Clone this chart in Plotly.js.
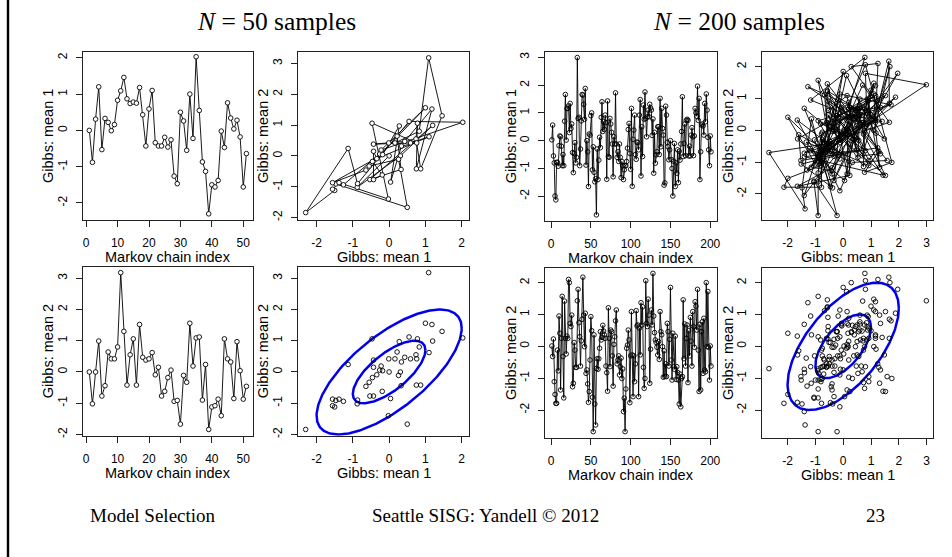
<!DOCTYPE html>
<html><head><meta charset="utf-8">
<script src="https://cdn.plot.ly/plotly-3.0.1.min.js"></script>
<style>html,body{margin:0;padding:0;background:#fff;} #chart{width:952px;height:557px;}</style>
</head><body><div id="chart"></div>
<script>
// ---- data: Gibbs sampler draws ----
const mean1_N50 = [0.0,-0.88,0.31,1.2,-0.53,0.33,0.22,-0.01,0.16,0.83,
 1.09,1.46,0.87,0.74,0.78,0.75,1.18,0.43,-0.43,0.59,
 1.10,-0.34,-0.43,-0.43,-0.19,-0.46,-0.26,-1.26,-1.47,0.50,
 0.26,-0.55,1.0,-0.22,2.03,0.55,-0.87,-1.13,-2.3,-1.5,
 -1.56,-1.38,-0.02,-0.47,0.76,0.34,0.04,0.28,-0.18,-1.56,-0.64];
const mean2_N50 = [0.0,-1.02,0.0,0.99,-0.77,-0.44,0.64,0.42,0.42,0.80,
 3.18,1.30,-0.42,0.55,1.06,-0.42,1.52,0.47,0.38,0.42,
 0.62,-0.09,0.15,-0.77,-0.62,-0.18,0.06,-0.94,-0.91,-1.67,
 -0.11,-0.33,1.56,0.19,1.09,1.12,-0.90,0.24,-1.84,-1.12,
 -1.08,-0.87,-1.40,1.06,0.42,0.32,-0.85,0.97,0.04,-0.87,-0.46];
const mean1_N200 = [0.03,0.56,-0.55,-0.8,-1.99,-2.13,-0.78,-0.78,-0.92,-0.18,
 0.17,0.14,-0.2,-0.9,-0.5,-0.9,0.7,1.66,0.02,1.16,
 1.16,1.25,0.29,1.34,0.44,0.6,-0.43,-1.15,-0.46,-0.07,
 -0.8,-0.6,2.99,0.8,0.84,-0.9,-0.3,0.71,1.66,1.64,
 1.31,0.77,1.88,-0.88,0,-0.4,-1.65,0.24,0.2,0.9,
 1.0,-1.05,-0.22,-1.14,-1.48,-1.37,-2.67,-0.3,-1.4,-0.7,
 0.12,-0.25,0.84,1.4,0.33,0.68,0.4,0.92,0.65,-1.39,
 1.43,-0.57,-0.6,0.8,0.6,0.3,-0.12,-1.3,0.14,-0.12,
 1.72,-0.12,-0.6,-0.4,-0.75,-0.12,-0.6,-1.33,-0.75,-0.9,
 -1.4,-1.05,-0.9,-0.9,-0.75,-0.27,0.4,0.62,-0.46,-1.03,
 1.16,-1.64,0.05,0.38,0.92,-0.5,-0.67,-0.05,-0.07,-0.33,
 0.92,1.48,-1.27,0.5,-0.57,1.28,0.77,1.75,0.8,0.14,
 0.86,1.1,0.86,1.31,1.18,1.1,0.19,0.78,-1.17,0.3,
 -0.81,-0.51,-0.4,0.5,0.5,-0.5,1.52,-0.22,1.16,0.44,
 0.2,-1.6,-1.52,1.24,0.92,-0.06,-0.22,-0.69,-0.33,0,
 -0.68,-1.0,-1.99,-0.74,-0.1,-1.65,-0.8,-1.17,-0.33,-1.51,
 -0.38,-0.7,-0.12,0.33,1.58,-0.57,-0.1,0.6,-0.54,0.73,
 0.77,0.73,-0.55,-0.2,-0.55,0.2,0.47,0.14,-0.54,0.17,
 1.16,1.0,0.88,1.96,0.73,1.52,-1.4,-0.4,0.56,0.6,
 0.53,0.2,1.34,0.68,1.68,1.1,0.12,-0.33,-0.9,0.17,-0.4];
const mean2_N200 = [0.01,-0.32,0.23,-1.11,-1.51,-1.79,-1.79,-0.12,-0.77,0.95,
 0.41,-1.37,0.25,1.57,-0.32,-1.62,1.42,0.25,-0.24,0.32,
 0.25,2.1,2.0,0.72,0.62,0.98,-1.27,-1.16,0.12,-0.12,
 -0.66,-0.66,1.43,1.79,0.74,0.3,-0.62,0.17,0.85,2.17,
 0.98,-0.01,1.04,-0.85,-0.74,-1.18,-1.76,-1.42,-0.43,0.93,
 0.49,-1.6,-2.68,0.36,-1.81,-2.47,-0.7,-0.39,-0.72,
 -0.39,-0.06,0.46,0.2,0.28,0.66,0.48,0.36,0.25,-0.62,
 -0.83,-1.41,1.21,0.25,-0.64,0.51,0.46,-0.3,-1.25,0.06,
 0.3,0.8,1.14,-0.55,-0.43,-0.3,-0.9,
 -0.64,-0.37,-1.01,-0.71,-2.05,-1.63,-2.68,-1.34,-0.06,0.04,
 0.51,0.2,-1.77,-0.3,1.09,-0.27,-1.58,-0.3,-1.11,-0.55,
 1.12,0.64,0.67,-1.58,0.57,
 -0.27,1.37,0.67,1.24,-0.66,-1.32,-1.01,2.06,0.72,0.62,
 1.48,0.98,-1.16,-0.09,1.14,0.67,2.29,0.95,0.43,0.2,
 0.12,-0.03,-0.27,0.15,-0.41,1.09,0.46,0.36,-0.01,-0.97,
 -0.14,-0.95,
 -0.55,-0.95,0.72,0.46,-0.62,0.22,1.85,-0.43,-1.06,0.41,
 -0.64,-0.72,0.32,-1.04,-0.64,-0.82,-1.06,-1.81,-0.87,-1.9,-1.01,
 -0.95,1.46,-0.39,0.7,-0.62,0.25,0.67,-1.14,0.49,-0.3,
 0.91,0.16,-0.62,1.09,0.62,-0.03,1.4,1.26,0.51,1.79,
 -0.12,-1.42,0.69,-1.37,0.46,0.77,-0.85,0.88,-0.74,-0.8,
 2.0,-0.01,1.72,
 -0.03,-1.06,0.01,-0.62];
// ellipse model parameters (correlation, contour radii)
const rho_N50 = 0.7, rho_N200 = 0.6;
const contourLevels = [1, 2];
// tick labels
const ticksIdx50 = [0,10,20,30,40,50];
const ticksIdx200 = [0,50,100,150,200];
const titles = ['<i>N</i> = 50 samples', '<i>N</i> = 200 samples'];
const footer = ['Model Selection', 'Seattle SISG: Yandell \u00a9 2012', '23'];

const W = 952, H = 557;
const idx = n => Array.from({length:n}, (_,i)=>i+1);
const idx50 = idx(mean1_N50.length), idx200 = idx(mean1_N200.length);

function ellipse(rho, c){
  const xs=[], ys=[], s=Math.sqrt(1-rho*rho);
  for(let k=0;k<=240;k++){ const t=2*Math.PI*k/240;
    xs.push(c*Math.cos(t)); ys.push(c*(rho*Math.cos(t)+s*Math.sin(t))); }
  return {xs, ys};
}

const panels = [
 {x0:82.7,x1:253,y0:52,y1:220, xr:[-1.1,53.1], yr:[-2.47,2.16], xt:ticksIdx50, yt:[-2,-1,0,1,2], xl:'Markov chain index', yl:'Gibbs: mean 1'},
 {x0:297.7,x1:469.3,y0:52,y1:220, xr:[-2.52,2.21], yr:[-2.08,3.37], xt:[-2,-1,0,1,2], yt:[-2,-1,0,1,2,3], xl:'Gibbs: mean 1', yl:'Gibbs: mean 2'},
 {x0:82.7,x1:253,y0:266.7,y1:435.7, xr:[-1.1,53.1], yr:[-2.04,3.37], xt:ticksIdx50, yt:[-2,-1,0,1,2,3], xl:'Markov chain index', yl:'Gibbs: mean 2'},
 {x0:297.7,x1:469.3,y0:266.7,y1:435.7, xr:[-2.52,2.21], yr:[-2.04,3.37], xt:[-2,-1,0,1,2], yt:[-2,-1,0,1,2,3], xl:'Gibbs: mean 1', yl:'Gibbs: mean 2'},
 {x0:545,x1:716.7,y0:52,y1:220.7, xr:[-7.6,208.1], yr:[-2.88,3.19], xt:ticksIdx200, yt:[-2,-1,0,1,2,3], xl:'Markov chain index', yl:'Gibbs: mean 1'},
 {x0:761.7,x1:933.3,y0:52,y1:220, xr:[-2.93,3.24], yr:[-2.82,2.46], xt:[-2,-1,0,1,2,3], yt:[-2,-1,0,1,2], xl:'Gibbs: mean 1', yl:'Gibbs: mean 2'},
 {x0:545,x1:716.7,y0:268.3,y1:437.7, xr:[-7.6,208.1], yr:[-2.87,2.45], xt:ticksIdx200, yt:[-2,-1,0,1,2], xl:'Markov chain index', yl:'Gibbs: mean 2'},
 {x0:761.7,x1:933.3,y0:268.3,y1:437.7, xr:[-2.93,3.24], yr:[-2.87,2.45], xt:[-2,-1,0,1,2,3], yt:[-2,-1,0,1,2], xl:'Gibbs: mean 1', yl:'Gibbs: mean 2'}
];
const ylabX = [48,263,48,263,511,728,511,728];

const traces = [];
const lineStyle = {color:'#000', width:0.9};
const mkB50 = {symbol:'circle', size:4.6, color:'#fff', line:{color:'#000', width:0.9}};
const mkB200 = {symbol:'circle', size:4.6, color:'rgba(255,255,255,0)', line:{color:'#000', width:0.9}};
const mkP = {symbol:'circle-open', size:4.6, color:'#000', line:{color:'#000', width:0.9}};
function ax(i){ return i===0 ? ['x','y'] : ['x'+(i+1),'y'+(i+1)]; }
function addB(i, x, y, mk){ const [xa,ya]=ax(i); traces.push({type:'scatter', mode:'lines+markers', x, y, xaxis:xa, yaxis:ya, line:lineStyle, marker:mk, hoverinfo:'skip'}); }
function addP(i, x, y){ const [xa,ya]=ax(i); traces.push({type:'scatter', mode:'markers', x, y, xaxis:xa, yaxis:ya, marker:mkP, hoverinfo:'skip'}); }
function addE(i, rho){ const [xa,ya]=ax(i); contourLevels.forEach(c=>{ const e=ellipse(rho,c);
  traces.push({type:'scatter', mode:'lines', x:e.xs, y:e.ys, xaxis:xa, yaxis:ya, line:{color:'#0000ee', width:2.5}, hoverinfo:'skip'}); }); }

addB(0, idx50, mean1_N50, mkB50);
addB(1, mean1_N50, mean2_N50, mkB50);
addB(2, idx50, mean2_N50, mkB50);
addE(3, rho_N50); addP(3, mean1_N50, mean2_N50);
addB(4, idx200, mean1_N200, mkB200);
addB(5, mean1_N200, mean2_N200, mkB200);
addB(6, idx200, mean2_N200, mkB200);
addE(7, rho_N200); addP(7, mean1_N200, mean2_N200);

const font = 'Liberation Sans, Arial, sans-serif';
const layout = {width:W, height:H, margin:{l:0,r:0,t:0,b:0}, paper_bgcolor:'#fff', plot_bgcolor:'#fff', showlegend:false, annotations:[], shapes:[]};
panels.forEach((p,i)=>{
  const sx = i===0?'':String(i+1);
  const common = {showgrid:false, zeroline:false, showline:true, mirror:true, linecolor:'#222', linewidth:1,
    ticks:'outside', ticklen:6, tickwidth:1, tickcolor:'#222', tickfont:{family:font, size:12, color:'#000'}, fixedrange:true};
  layout['xaxis'+sx] = Object.assign({}, common, {domain:[p.x0/W, p.x1/W], range:p.xr, tickvals:p.xt, ticktext:p.xt.map(String), anchor:'y'+sx, ticklabelstandoff:6});
  layout['yaxis'+sx] = Object.assign({}, common, {domain:[1-p.y1/H, 1-p.y0/H], range:p.yr, tickvals:p.yt, ticktext:p.yt.map(String), anchor:'x'+sx, tickangle:-90, ticklabelstandoff:4});
  layout.annotations.push({xref:'paper', yref:'paper', x:(p.x0+p.x1)/2/W, y:1-(p.y1+37)/H, text:p.xl, showarrow:false, xanchor:'center', yanchor:'middle', font:{family:font, size:14.5, color:'#000'}});
  layout.annotations.push({xref:'paper', yref:'paper', x:ylabX[i]/W, y:1-(p.y0+p.y1)/2/H, text:p.yl, textangle:-90, showarrow:false, xanchor:'center', yanchor:'middle', font:{family:font, size:14.5, color:'#000'}});
});
const serif = 'Liberation Serif, Times New Roman, serif';
layout.annotations.push({xref:'paper', yref:'paper', x:276/W, y:1-22/H, text:titles[0], showarrow:false, xanchor:'center', yanchor:'middle', font:{family:serif, size:25.5, color:'#000'}});
layout.annotations.push({xref:'paper', yref:'paper', x:739/W, y:1-22/H, text:titles[1], showarrow:false, xanchor:'center', yanchor:'middle', font:{family:serif, size:25.5, color:'#000'}});
layout.annotations.push({xref:'paper', yref:'paper', x:88/W, y:1-515/H, text:footer[0], showarrow:false, xanchor:'left', yanchor:'middle', font:{family:serif, size:19, color:'#000'}});
layout.annotations.push({xref:'paper', yref:'paper', x:486/W, y:1-515/H, text:footer[1], showarrow:false, xanchor:'center', yanchor:'middle', font:{family:serif, size:19, color:'#000'}});
layout.annotations.push({xref:'paper', yref:'paper', x:875/W, y:1-515/H, text:footer[2], showarrow:false, xanchor:'center', yanchor:'middle', font:{family:serif, size:19, color:'#000'}});
layout.shapes.push({type:'line', xref:'paper', yref:'paper', x0:8/W, x1:8/W, y0:0, y1:1, line:{color:'#000', width:2.4}});

Plotly.newPlot('chart', traces, layout, {staticPlot:true, displayModeBar:false});
</script>
</body></html>
